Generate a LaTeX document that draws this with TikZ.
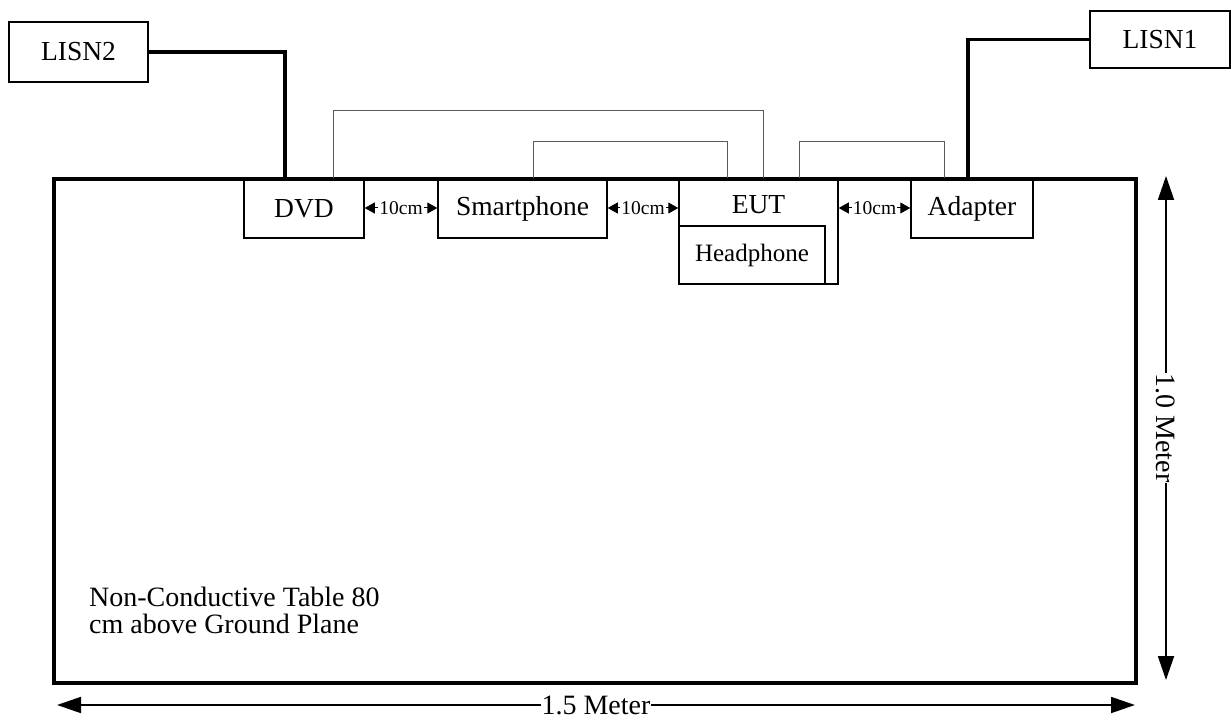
\documentclass[tikz,border=0pt]{standalone}
\usepackage{fontspec}
\setmainfont{Liberation Serif}
\usetikzlibrary{arrows.meta}
\begin{document}
\begin{tikzpicture}[x=1pt,y=-1pt,
    box/.style={draw,line width=1.5pt,inner sep=0pt,minimum height=59pt,font=\fontsize{27.5}{28}\selectfont},
    power/.style={line width=3.5pt},
    signal/.style={draw=black!65,line width=1pt},
    spacing/.style={fill=white,inner sep=1pt,font=\fontsize{19.5}{20}\selectfont},
    gaparrow/.style={-{Triangle[length=10pt,width=11pt]},line width=1pt},
    dim/.style={{Triangle[length=24pt,width=16pt]}-{Triangle[length=24pt,width=16pt]},line width=1.8pt},
    dimlabel/.style={fill=white,inner sep=1pt,font=\fontsize{28}{28}\selectfont}
]
\useasboundingbox (0,0) rectangle (1231,722);

\node[box,minimum width=139pt,minimum height=60pt] (LISN2) at (78.5,52)   {LISN2};
\node[box,minimum width=140pt,minimum height=57pt] (LISN1) at (1160,39.5) {LISN1};
\node[box,minimum width=120pt] (DVD)        at (304,208.5)   {DVD};
\node[box,minimum width=169pt] (Smartphone) at (522.5,208.5) {Smartphone};
\node[box,minimum width=159pt,minimum height=105pt] (EUT) at (758.5,231.5) {};
\node[inner sep=0pt,font=\fontsize{27.5}{28}\selectfont] (EUTlabel) at ([yshift=-26pt]EUT.north) {EUT};
\node[box,minimum width=146pt,minimum height=58pt,anchor=south west,font=\fontsize{25}{25}\selectfont] (Headphone) at (EUT.south west) {Headphone};
\node[box,minimum width=122pt] (Adapter)    at (972,208.5)   {Adapter};

% table
\node[draw,line width=3.5pt,minimum width=1082pt,minimum height=504pt] (table) at (595,431) {};
\node[anchor=north west,align=left,inner sep=0pt,font=\fontsize{28}{27}\selectfont] (tablenote) at (89,587) {Non-Conductive Table 80\\cm above Ground Plane};

% 10cm spacings
\node[spacing] (ten1) at (401,208)   {10cm};
\node[spacing] (ten2) at (643,208)   {10cm};
\node[spacing] (ten3) at (874.5,208) {10cm};
\draw[gaparrow] (ten1.west) -- (ten1.west -| DVD.east);
\draw[gaparrow] (ten1.east) -- (ten1.east -| Smartphone.west);
\draw[gaparrow] (ten2.west) -- (ten2.west -| Smartphone.east);
\draw[gaparrow] (ten2.east) -- (ten2.east -| EUT.west);
\draw[gaparrow] (ten3.west) -- (ten3.west -| EUT.east);
\draw[gaparrow] (ten3.east) -- (ten3.east -| Adapter.west);

% cables
\draw[power] (LISN2.east) -| ([xshift=-19pt]DVD.north);
\draw[power] (LISN1.west) -| ([xshift=-4pt]Adapter.north);
\draw[signal] ([xshift=29pt]DVD.north) -- ++(0,-68) -| ([xshift=4.5pt]EUT.north);
\draw[signal] ([xshift=10.5pt]Smartphone.north) -- ++(0,-37) -| ([xshift=-31.5pt]EUT.north);
\draw[signal] ([xshift=40.5pt]EUT.north) -- ++(0,-37) -| ([xshift=-28pt]Adapter.north);

% dimensions
\coordinate (vtop) at (1166,176);
\coordinate (vbot) at (1166,680);
\coordinate (hleft) at (57,705);
\coordinate (hright) at (1135,705);
\draw[dim] (vtop) -- node[dimlabel,rotate=-90] (vlabel) {1.0 Meter} (vbot);
\draw[dim] (hleft) -- node[dimlabel] (hlabel) {1.5 Meter} (hright);
\end{tikzpicture}
\end{document}
